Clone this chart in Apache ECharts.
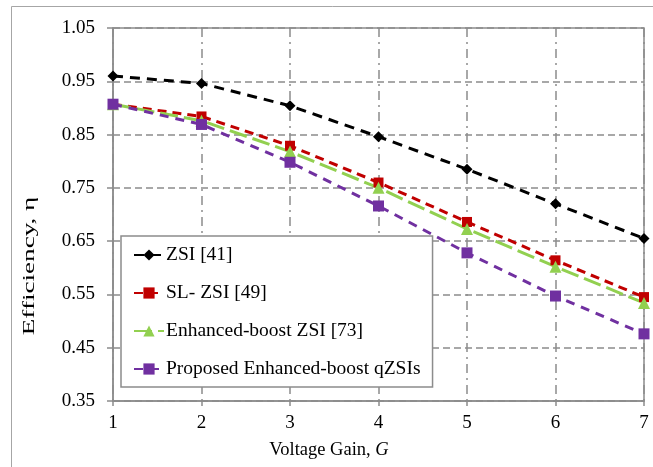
<!DOCTYPE html>
<html>
<head>
<meta charset="utf-8">
<script src="https://cdn.jsdelivr.net/npm/echarts@6/dist/echarts.min.js"></script>
<style>
  html, body { margin: 0; padding: 0; background: #fff; }
  #chart { width: 653px; height: 467px; }
</style>
</head>
<body>
<div id="chart"></div>
<script>
// Voltage gain G (x) and efficiency η (y) of each topology
const gain = [1, 2, 3, 4, 5, 6, 7];
const zsi41 = [0.960, 0.946, 0.904, 0.846, 0.785, 0.720, 0.655];
const slZsi49 = [0.907, 0.884, 0.829, 0.760, 0.686, 0.614, 0.545];
const ebZsi73 = [0.907, 0.876, 0.818, 0.750, 0.673, 0.602, 0.534];
const proposed = [0.907, 0.869, 0.798, 0.716, 0.628, 0.547, 0.476];

const seriesNames = [
  'ZSI [41]',
  'SL- ZSI [49]',
  'Enhanced-boost ZSI [73]',
  'Proposed Enhanced-boost qZSIs'
];
const yTicks = [0.35, 0.45, 0.55, 0.65, 0.75, 0.85, 0.95, 1.05];

const serif = '"Liberation Serif", "Times New Roman", serif';
const pairs = (ys) => gain.map((g, i) => [g, ys[i]]);

function lineSeries(name, ys, color, symbol, size, dash) {
  return {
    name: name,
    type: 'line',
    data: pairs(ys),
    symbol: symbol,
    symbolSize: size,
    showSymbol: true,
    itemStyle: { color: color },
    lineStyle: { color: color, width: 3, type: dash },
    emphasis: { disabled: true },
    animation: false
  };
}

const chart = echarts.init(document.getElementById('chart'), null, { renderer: 'canvas' });

chart.setOption({
  backgroundColor: '#fff',
  animation: false,
  grid: {
    left: 113, right: 9, top: 28, bottom: 66,
    show: true, borderColor: '#8c8c8c', borderWidth: 1.5, backgroundColor: 'transparent'
  },
  xAxis: {
    type: 'value',
    min: gain[0], max: gain[gain.length - 1], interval: 1,
    axisLine: { show: true, lineStyle: { color: '#8c8c8c', width: 1.5 } },
    axisTick: { show: true, length: 5, lineStyle: { color: '#8c8c8c', width: 1.5 } },
    axisLabel: { margin: 13, color: '#000', fontFamily: serif, fontSize: 19 },
    splitLine: { show: true, lineStyle: { color: '#8c8c8c', width: 1.5, type: [9, 5, 2, 5] } }
  },
  yAxis: {
    type: 'value',
    min: yTicks[0], max: yTicks[yTicks.length - 1], interval: 0.1,
    axisLine: { show: true, lineStyle: { color: '#8c8c8c', width: 1.5 } },
    axisTick: { show: true, length: 6, lineStyle: { color: '#8c8c8c', width: 1.5 } },
    axisLabel: {
      margin: 18, color: '#000', fontFamily: serif, fontSize: 19,
      formatter: (v) => Number(v).toFixed(2)
    },
    splitLine: { show: true, lineStyle: { color: '#8c8c8c', width: 1.5, type: [7, 4] } }
  },
  legend: {
    orient: 'vertical',
    left: 121, top: 236,
    padding: [8, 12, 7, 12],
    itemWidth: 30, itemHeight: 14, itemGap: 16,
    backgroundColor: '#fff',
    borderColor: '#8c8c8c', borderWidth: 1.5,
    textStyle: { color: '#000', fontFamily: serif, fontSize: 19.5, lineHeight: 22, padding: [0, 0, 0, -3] },
    data: seriesNames
  },
  series: [
    lineSeries(seriesNames[0], zsi41, '#000000', 'diamond', 11, [10, 7]),
    lineSeries(seriesNames[1], slZsi49, '#c00000', 'rect', 10, [9, 6]),
    lineSeries(seriesNames[2], ebZsi73, '#92d050', 'triangle', 12, [18, 6]),
    lineSeries(seriesNames[3], proposed, '#7030a0', 'rect', 11, [9, 7])
  ],
  graphic: [
    {
      type: 'polyline',
      shape: { points: [[11.5, 467], [11.5, 6.5], [653, 6.5]] },
      style: { stroke: '#a6a6a6', lineWidth: 1, fill: null },
      silent: true
    },
    {
      type: 'text',
      x: 29, y: 266,
      rotation: Math.PI / 2,
      scaleX: 1.55,
      style: {
        text: 'Efficiency, η',
        font: '17.5px ' + serif,
        fill: '#000',
        align: 'center',
        verticalAlign: 'middle'
      },
      silent: true
    },
    {
      type: 'text',
      x: 329, y: 450,
      style: {
        text: '{a|Voltage Gain, }{b|G}',
        align: 'center',
        verticalAlign: 'middle',
        rich: {
          a: { fontFamily: serif, fontSize: 18.5, fill: '#000', color: '#000' },
          b: { fontFamily: serif, fontSize: 18.5, fontStyle: 'italic', fill: '#000', color: '#000' }
        }
      },
      silent: true
    }
  ]
});
</script>
</body>
</html>
